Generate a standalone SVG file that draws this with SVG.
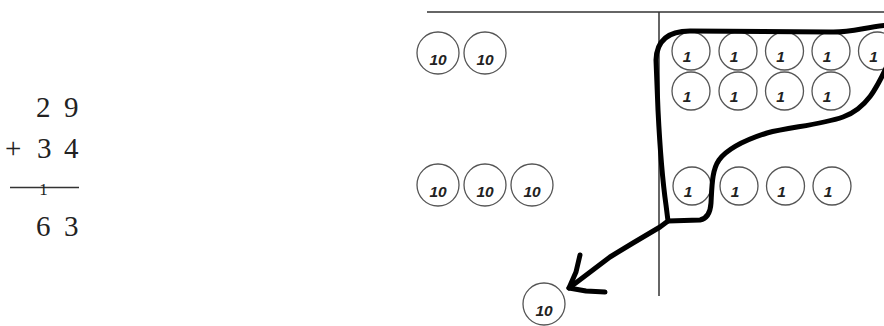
<svg xmlns="http://www.w3.org/2000/svg" width="884" height="326" viewBox="0 0 884 326">
<style>
.num{font-family:"Liberation Serif","Times New Roman",serif;font-size:29px;fill:#222}
.c{fill:none;stroke:#555;stroke-width:1.3}
.t10{font-family:"Liberation Sans",Arial,sans-serif;font-weight:bold;font-style:italic;font-size:15.5px;fill:#222;text-anchor:middle}
.t1{font-family:"Liberation Sans",Arial,sans-serif;font-weight:bold;font-style:italic;font-size:15.5px;fill:#222;text-anchor:middle}
.rule{stroke:#333;stroke-width:1.5;fill:none}
.ink{fill:none;stroke:#000;stroke-width:5;stroke-linecap:round;stroke-linejoin:round}
</style>
<rect width="884" height="326" fill="#fff"/>
<g id="sum">
<text class="num" x="36" y="117">2</text>
<text class="num" x="64" y="117">9</text>
<text class="num" x="5" y="158">+</text>
<text class="num" x="37" y="158">3</text>
<text class="num" x="64" y="158">4</text>
<line x1="10" y1="187.5" x2="79" y2="187.5" stroke="#333" stroke-width="1.4"/>
<text x="43.5" y="195" font-family="Liberation Serif, Times New Roman, serif" font-size="17" fill="#222" text-anchor="middle">1</text>
<text class="num" x="36" y="236">6</text>
<text class="num" x="64" y="236">3</text>
</g>
<g id="table">
<line class="rule" x1="427" y1="12" x2="884" y2="12"/>
<line class="rule" x1="659" y1="12" x2="659" y2="296"/>
</g>
<g id="tens-top">
<circle class="c" cx="438" cy="53" r="21"/><text class="t10" x="438" y="65">10</text>
<circle class="c" cx="485" cy="53" r="21"/><text class="t10" x="485" y="65">10</text>
</g>
<g id="tens-mid">
<circle class="c" cx="438" cy="185" r="21"/><text class="t10" x="438" y="197">10</text>
<circle class="c" cx="485" cy="185" r="21"/><text class="t10" x="485" y="197">10</text>
<circle class="c" cx="532" cy="185" r="21"/><text class="t10" x="532" y="197">10</text>
</g>
<g id="ten-new">
<circle class="c" cx="544" cy="304" r="21"/><text class="t10" x="544" y="316">10</text>
</g>
<g id="ones-row1">
<circle class="c" cx="691" cy="51" r="19"/><text class="t1" x="687" y="62">1</text>
<circle class="c" cx="738" cy="51" r="19"/><text class="t1" x="734" y="62">1</text>
<circle class="c" cx="784.5" cy="51" r="19"/><text class="t1" x="780.5" y="62">1</text>
<circle class="c" cx="831" cy="51" r="19"/><text class="t1" x="827" y="62">1</text>
<circle class="c" cx="877.5" cy="51" r="19"/><text class="t1" x="873.5" y="62">1</text>
</g>
<g id="ones-row2">
<circle class="c" cx="691" cy="91" r="19"/><text class="t1" x="687" y="102">1</text>
<circle class="c" cx="738" cy="91" r="19"/><text class="t1" x="734" y="102">1</text>
<circle class="c" cx="784.5" cy="91" r="19"/><text class="t1" x="780.5" y="102">1</text>
<circle class="c" cx="831" cy="91" r="19"/><text class="t1" x="827" y="102">1</text>
</g>
<g id="ones-row3">
<circle class="c" cx="692" cy="186" r="19"/><text class="t1" x="688" y="197">1</text>
<circle class="c" cx="739" cy="186" r="19"/><text class="t1" x="735" y="197">1</text>
<circle class="c" cx="785.5" cy="186" r="19"/><text class="t1" x="781.5" y="197">1</text>
<circle class="c" cx="832" cy="186" r="19"/><text class="t1" x="828" y="197">1</text>
</g>
<g id="connectors">
<path class="ink" d="M 888,25 C 865,27 850,33 830,32 L 690,31 Q 657,31 656,60 L 658,110 Q 661,170 666,205 L 668,221 L 660,227 L 633,243 L 610,257 L 577,282 L 569,288"/>
<path class="ink" d="M 888,64 C 878,85 868,108 843,117 C 820,125 790,127 767,133 C 745,140 728,148 719,160 C 712,170 712,185 711,203 Q 710,218 700,220 L 668,221"/>
<path class="ink" d="M 580,255 L 576,272 L 569,288 L 586,291 L 605,292"/>
</g>
</svg>
